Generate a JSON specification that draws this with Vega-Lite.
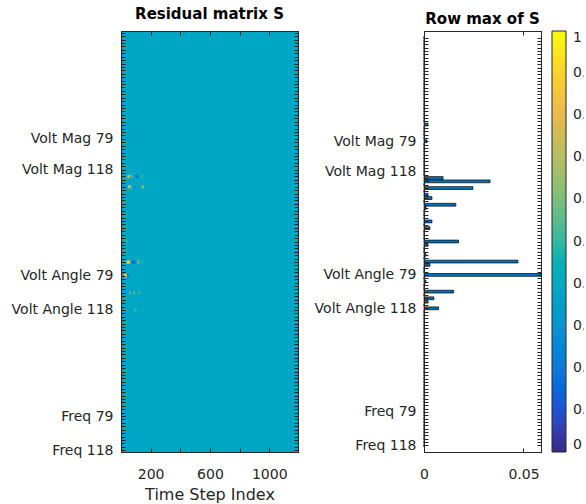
{
  "$schema": "https://vega.github.io/schema/vega-lite/v6.json",
  "background": "white",
  "padding": {"left": 10, "top": 6, "right": -12, "bottom": 4},
  "config": {
    "font": "DejaVu Sans",
    "view": {"stroke": "#262626", "strokeWidth": 1},
    "axis": {
      "grid": false,
      "zindex": 1,
      "domainColor": "#262626",
      "tickColor": "#262626",
      "labelColor": "#262626",
      "labelFont": "DejaVu Sans",
      "labelFontSize": 14,
      "titleFont": "DejaVu Sans",
      "titleFontSize": 16,
      "titleFontWeight": "normal",
      "titleColor": "#262626",
      "tickSize": -4,
      "labelOverlap": false,
      "labelBound": false,
      "labelFlush": false
    },
    "axisY": {"labelPadding": 12},
    "axisX": {"labelPadding": 19, "titlePadding": 5},
    "title": {"fontSize": 15, "fontWeight": "bold", "color": "#000000", "font": "DejaVu Sans", "offset": 4}
  },
  "datasets": {
    "background": [
      {"t0": 0, "t1": 1194, "r0": 0.5, "r1": 123.5, "s": 0.39}
    ],
    "cells": [
      {"r0": 42.5, "r1": 43.5, "t0": 42, "t1": 60, "s": 0.75},
      {"r0": 42.5, "r1": 43.5, "t0": 66, "t1": 78, "s": 0.55},
      {"r0": 42.5, "r1": 43.5, "t0": 98, "t1": 116, "s": 0.2},
      {"r0": 42.5, "r1": 43.5, "t0": 134, "t1": 148, "s": 0.48},
      {"r0": 45.5, "r1": 46.5, "t0": 14, "t1": 30, "s": 0.28},
      {"r0": 45.5, "r1": 46.5, "t0": 46, "t1": 70, "s": 0.68},
      {"r0": 45.5, "r1": 46.5, "t0": 84, "t1": 104, "s": 0.33},
      {"r0": 45.5, "r1": 46.5, "t0": 138, "t1": 156, "s": 0.57},
      {"r0": 45.5, "r1": 46.5, "t0": 188, "t1": 202, "s": 0.46},
      {"r0": 50.5, "r1": 51.5, "t0": 28, "t1": 42, "s": 0.33},
      {"r0": 61.5, "r1": 62.5, "t0": 28, "t1": 42, "s": 0.5},
      {"r0": 67.5, "r1": 68.5, "t0": 38, "t1": 60, "s": 0.85},
      {"r0": 67.5, "r1": 68.5, "t0": 74, "t1": 96, "s": 0.12},
      {"r0": 67.5, "r1": 68.5, "t0": 108, "t1": 126, "s": 0.56},
      {"r0": 67.5, "r1": 68.5, "t0": 138, "t1": 150, "s": 0.47},
      {"r0": 71.5, "r1": 72.5, "t0": 20, "t1": 38, "s": 0.9},
      {"r0": 71.5, "r1": 72.5, "t0": 42, "t1": 58, "s": 0.25},
      {"r0": 76.5, "r1": 77.5, "t0": 20, "t1": 34, "s": 0.3},
      {"r0": 76.5, "r1": 77.5, "t0": 53, "t1": 67, "s": 0.53},
      {"r0": 76.5, "r1": 77.5, "t0": 83, "t1": 97, "s": 0.54},
      {"r0": 76.5, "r1": 77.5, "t0": 114, "t1": 128, "s": 0.5},
      {"r0": 81.5, "r1": 82.5, "t0": 88, "t1": 104, "s": 0.5}
    ],
    "rowmax": [
      {"row": 1, "rowmax": 0}, {"row": 2, "rowmax": 0}, {"row": 3, "rowmax": 0}, {"row": 4, "rowmax": 0}, {"row": 5, "rowmax": 0},
      {"row": 6, "rowmax": 0}, {"row": 7, "rowmax": 0}, {"row": 8, "rowmax": 0}, {"row": 9, "rowmax": 0}, {"row": 10, "rowmax": 0},
      {"row": 11, "rowmax": 0}, {"row": 12, "rowmax": 0}, {"row": 13, "rowmax": 0}, {"row": 14, "rowmax": 0}, {"row": 15, "rowmax": 0},
      {"row": 16, "rowmax": 0}, {"row": 17, "rowmax": 0}, {"row": 18, "rowmax": 0}, {"row": 19, "rowmax": 0}, {"row": 20, "rowmax": 0},
      {"row": 21, "rowmax": 0}, {"row": 22, "rowmax": 0}, {"row": 23, "rowmax": 0}, {"row": 24, "rowmax": 0}, {"row": 25, "rowmax": 0},
      {"row": 26, "rowmax": 0}, {"row": 27, "rowmax": 0.002}, {"row": 28, "rowmax": 0}, {"row": 29, "rowmax": 0}, {"row": 30, "rowmax": 0},
      {"row": 31, "rowmax": 0}, {"row": 32, "rowmax": 0.0015}, {"row": 33, "rowmax": 0}, {"row": 34, "rowmax": 0}, {"row": 35, "rowmax": 0},
      {"row": 36, "rowmax": 0}, {"row": 37, "rowmax": 0}, {"row": 38, "rowmax": 0}, {"row": 39, "rowmax": 0}, {"row": 40, "rowmax": 0},
      {"row": 41, "rowmax": 0}, {"row": 42, "rowmax": 0}, {"row": 43, "rowmax": 0.0096}, {"row": 44, "rowmax": 0.0332}, {"row": 45, "rowmax": 0},
      {"row": 46, "rowmax": 0.0246}, {"row": 47, "rowmax": 0}, {"row": 48, "rowmax": 0.002}, {"row": 49, "rowmax": 0.004}, {"row": 50, "rowmax": 0},
      {"row": 51, "rowmax": 0.016}, {"row": 52, "rowmax": 0.001}, {"row": 53, "rowmax": 0}, {"row": 54, "rowmax": 0}, {"row": 55, "rowmax": 0},
      {"row": 56, "rowmax": 0.004}, {"row": 57, "rowmax": 0}, {"row": 58, "rowmax": 0.003}, {"row": 59, "rowmax": 0}, {"row": 60, "rowmax": 0},
      {"row": 61, "rowmax": 0}, {"row": 62, "rowmax": 0.0174}, {"row": 63, "rowmax": 0.002}, {"row": 64, "rowmax": 0}, {"row": 65, "rowmax": 0},
      {"row": 66, "rowmax": 0.001}, {"row": 67, "rowmax": 0}, {"row": 68, "rowmax": 0.0472}, {"row": 69, "rowmax": 0.003}, {"row": 70, "rowmax": 0},
      {"row": 71, "rowmax": 0}, {"row": 72, "rowmax": 0.0588}, {"row": 73, "rowmax": 0}, {"row": 74, "rowmax": 0.001}, {"row": 75, "rowmax": 0},
      {"row": 76, "rowmax": 0}, {"row": 77, "rowmax": 0.0149}, {"row": 78, "rowmax": 0}, {"row": 79, "rowmax": 0.005}, {"row": 80, "rowmax": 0.002},
      {"row": 81, "rowmax": 0}, {"row": 82, "rowmax": 0.0073}, {"row": 83, "rowmax": 0}, {"row": 84, "rowmax": 0}, {"row": 85, "rowmax": 0},
      {"row": 86, "rowmax": 0}, {"row": 87, "rowmax": 0}, {"row": 88, "rowmax": 0}, {"row": 89, "rowmax": 0}, {"row": 90, "rowmax": 0},
      {"row": 91, "rowmax": 0}, {"row": 92, "rowmax": 0}, {"row": 93, "rowmax": 0}, {"row": 94, "rowmax": 0}, {"row": 95, "rowmax": 0},
      {"row": 96, "rowmax": 0}, {"row": 97, "rowmax": 0}, {"row": 98, "rowmax": 0}, {"row": 99, "rowmax": 0}, {"row": 100, "rowmax": 0},
      {"row": 101, "rowmax": 0}, {"row": 102, "rowmax": 0}, {"row": 103, "rowmax": 0}, {"row": 104, "rowmax": 0}, {"row": 105, "rowmax": 0},
      {"row": 106, "rowmax": 0}, {"row": 107, "rowmax": 0}, {"row": 108, "rowmax": 0}, {"row": 109, "rowmax": 0}, {"row": 110, "rowmax": 0},
      {"row": 111, "rowmax": 0}, {"row": 112, "rowmax": 0}, {"row": 113, "rowmax": 0}, {"row": 114, "rowmax": 0}, {"row": 115, "rowmax": 0},
      {"row": 116, "rowmax": 0}, {"row": 117, "rowmax": 0}, {"row": 118, "rowmax": 0}, {"row": 119, "rowmax": 0}, {"row": 120, "rowmax": 0},
      {"row": 121, "rowmax": 0}, {"row": 122, "rowmax": 0}, {"row": 123, "rowmax": 0}
    ]
  },
  "spacing": 14,
  "hconcat": [
    {
      "width": 177,
      "height": 421,
      "title": "Residual matrix S",
      "layer": [
        {
          "data": {"name": "background"},
          "mark": {"type": "rect"},
          "encoding": {
            "x": {"field": "t0", "type": "quantitative", "scale": {"domain": [0, 1194], "nice": false, "zero": false},
                  "axis": {"orient": "bottom", "zindex": 1, "title": "Time Step Index", "values": [200, 400, 600, 800, 1000],
                           "labelExpr": "datum.value % 400 == 200 ? datum.label : ''", "format": "d"}},
            "x2": {"field": "t1"},
            "y": {"field": "r0", "type": "quantitative", "scale": {"domain": [0.5, 123.5], "reverse": true, "nice": false, "zero": false},
                  "axis": {"orient": "left", "zindex": 1, "title": null,
                           "values": [1,2,3,4,5,6,7,8,9,10,11,12,13,14,15,16,17,18,19,20,21,22,23,24,25,26,27,28,29,30,31,32,33,34,35,36,37,38,39,40,41,42,43,44,45,46,47,48,49,50,51,52,53,54,55,56,57,58,59,60,61,62,63,64,65,66,67,68,69,70,71,72,73,74,75,76,77,78,79,80,81,82,83,84,85,86,87,88,89,90,91,92,93,94,95,96,97,98,99,100,101,102,103,104,105,106,107,108,109,110,111,112,113,114,115,116,117,118,119,120,121,122,123],
                           "labelExpr": "datum.value == 32 ? 'Volt Mag 79' : datum.value == 41 ? 'Volt Mag 118' : datum.value == 72 ? 'Volt Angle 79' : datum.value == 82 ? 'Volt Angle 118' : datum.value == 113 ? 'Freq 79' : datum.value == 123 ? 'Freq 118' : ''"}},
            "y2": {"field": "r1"},
            "color": {"field": "s", "type": "quantitative",
                      "scale": {"domain": [0, 0.1, 0.2, 0.3, 0.4, 0.5, 0.6, 0.7, 0.8, 0.9, 1],
                                "range": ["#352a87", "#2053d4", "#1079da", "#0c93d2", "#07a9c2", "#33b8a1", "#7cbf7b", "#b7bd64", "#e9b94e", "#fad32a", "#f9fb0e"]},
                      "legend": {"orient": "none", "legendX": 431, "legendY": 0, "direction": "vertical", "title": null,
                                 "gradientLength": 421, "gradientThickness": 14,
                                 "gradientStrokeColor": "#262626", "gradientStrokeWidth": 1,
                                 "values": [0, 0.1, 0.2, 0.3, 0.4, 0.5, 0.6, 0.7, 0.8, 0.9, 1], "format": ".1~f",
                                 "labelFontSize": 14, "labelColor": "#262626", "labelOffset": 7, "labelOverlap": false, "labelFont": "DejaVu Sans"}}
          }
        },
        {
          "data": {"name": "cells"},
          "mark": {"type": "rect"},
          "encoding": {
            "x": {"field": "t0", "type": "quantitative",
                  "axis": {"orient": "top", "zindex": 1, "title": null, "labels": false, "values": [200, 400, 600, 800, 1000]}},
            "x2": {"field": "t1"},
            "y": {"field": "r0", "type": "quantitative",
                  "axis": {"orient": "right", "zindex": 1, "title": null, "labels": false,
                           "values": [1,2,3,4,5,6,7,8,9,10,11,12,13,14,15,16,17,18,19,20,21,22,23,24,25,26,27,28,29,30,31,32,33,34,35,36,37,38,39,40,41,42,43,44,45,46,47,48,49,50,51,52,53,54,55,56,57,58,59,60,61,62,63,64,65,66,67,68,69,70,71,72,73,74,75,76,77,78,79,80,81,82,83,84,85,86,87,88,89,90,91,92,93,94,95,96,97,98,99,100,101,102,103,104,105,106,107,108,109,110,111,112,113,114,115,116,117,118,119,120,121,122,123]}},
            "y2": {"field": "r1"},
            "color": {"field": "s", "type": "quantitative"}
          }
        }
      ]
    },
    {
      "width": 117,
      "height": 421,
      "title": "Row max of S",
      "data": {"name": "rowmax"},
      "layer": [
        {
          "mark": {"type": "bar", "orient": "horizontal", "size": 2.8, "color": "#0072BD", "stroke": "#000000", "strokeWidth": 0.7},
          "encoding": {
            "x": {"field": "rowmax", "type": "quantitative", "scale": {"domain": [0, 0.0588], "nice": false},
                  "axis": {"orient": "bottom", "zindex": 1, "title": null, "values": [0, 0.05], "format": "~g"}},
            "y": {"field": "row", "type": "quantitative", "scale": {"domain": [0.5, 123.5], "reverse": true, "nice": false, "zero": false},
                  "axis": {"orient": "left", "zindex": 1, "title": null,
                           "values": [1,2,3,4,5,6,7,8,9,10,11,12,13,14,15,16,17,18,19,20,21,22,23,24,25,26,27,28,29,30,31,32,33,34,35,36,37,38,39,40,41,42,43,44,45,46,47,48,49,50,51,52,53,54,55,56,57,58,59,60,61,62,63,64,65,66,67,68,69,70,71,72,73,74,75,76,77,78,79,80,81,82,83,84,85,86,87,88,89,90,91,92,93,94,95,96,97,98,99,100,101,102,103,104,105,106,107,108,109,110,111,112,113,114,115,116,117,118,119,120,121,122,123],
                           "labelExpr": "datum.value == 32 ? 'Volt Mag 79' : datum.value == 41 ? 'Volt Mag 118' : datum.value == 72 ? 'Volt Angle 79' : datum.value == 82 ? 'Volt Angle 118' : datum.value == 113 ? 'Freq 79' : datum.value == 123 ? 'Freq 118' : ''"}}
          }
        },
        {
          "mark": {"type": "bar", "orient": "horizontal", "size": 2.8, "opacity": 0},
          "encoding": {
            "x": {"field": "rowmax", "type": "quantitative",
                  "axis": {"orient": "top", "zindex": 1, "title": null, "labels": false, "values": [0, 0.05]}},
            "y": {"field": "row", "type": "quantitative",
                  "axis": {"orient": "right", "zindex": 1, "title": null, "labels": false,
                           "values": [1,2,3,4,5,6,7,8,9,10,11,12,13,14,15,16,17,18,19,20,21,22,23,24,25,26,27,28,29,30,31,32,33,34,35,36,37,38,39,40,41,42,43,44,45,46,47,48,49,50,51,52,53,54,55,56,57,58,59,60,61,62,63,64,65,66,67,68,69,70,71,72,73,74,75,76,77,78,79,80,81,82,83,84,85,86,87,88,89,90,91,92,93,94,95,96,97,98,99,100,101,102,103,104,105,106,107,108,109,110,111,112,113,114,115,116,117,118,119,120,121,122,123]}}
          }
        }
      ]
    }
  ]
}
